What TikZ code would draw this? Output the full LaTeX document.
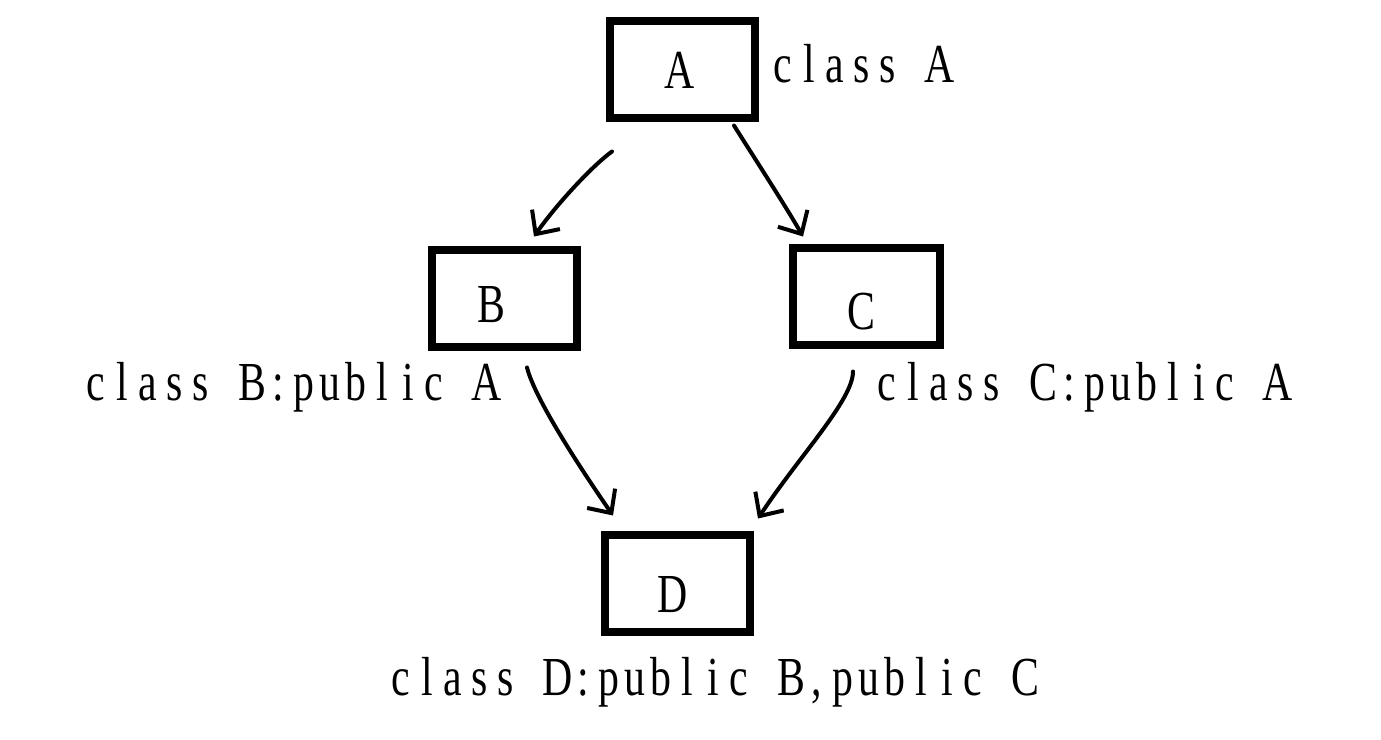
\documentclass[tikz,border=0pt]{standalone}
\usepackage{fontspec}
\setmainfont[FakeStretch=0.76]{Liberation Serif}
\usetikzlibrary{arrows.meta}
\newcommand\monostr[1]{\monoloop#1\relax}
\def\monoloop#1{\ifx\relax#1\else\makebox[26pt]{#1}\expandafter\monoloop\fi}
\begin{document}
\begin{tikzpicture}[x=1pt,y=-1pt,
  font=\fontsize{55}{60}\selectfont,
  box/.style={draw, line width=8pt, minimum width=145pt, minimum height=97pt, inner sep=0pt},
  lbl/.style={anchor=base west, inner sep=0pt},
  letter/.style={anchor=base, inner sep=0pt},
  arr/.style={line width=4pt, line cap=round, line join=round,
    -{Straight Barb[length=18pt,width=34pt]}}]
\useasboundingbox (0,0) rectangle (1381,739);
% boxes
\node[box] (A) at (682,69) {};
\node[box] (B) at (504,298) {};
\node[box, minimum width=147pt] (C) at (866,296) {};
\node[box] (D) at (677,583) {};
% letters in boxes
\node[letter] (lA) at (680,88) {A};
\node[letter] (lB) at (491,322) {B};
\node[letter] (lC) at (861,329) {C};
\node[letter] (lD) at (673,612) {D};
% class labels
\node[lbl] (tA) at (770,82) {\monostr{class~A}};
\node[lbl] (tB) at (83,400) {\monostr{class~B:public~A}};
\node[lbl] (tC) at (874,400) {\monostr{class~C:public~A}};
\node[lbl] (tD) at (388,695) {\monostr{class~D:public~B,public~C}};
% arrows
\draw[arr] ([shift={(-70,30)}]A.south) .. controls (592,166) and (556,205) .. ([shift={(30,-9)}]B.north);
\draw[arr] ([shift={(52,4)}]A.south) .. controls (748,148) and (785,205) .. ([shift={(-63,-7)}]C.north);
\draw[arr] ([shift={(23,17)}]B.south) .. controls (535,400) and (585,475) .. ([shift={(-64,-15)}]D.north);
\draw[arr] ([shift={(-13,23)}]C.south) .. controls (853,400) and (800,455) .. ([shift={(81,-12)}]D.north);
\end{tikzpicture}
\end{document}
